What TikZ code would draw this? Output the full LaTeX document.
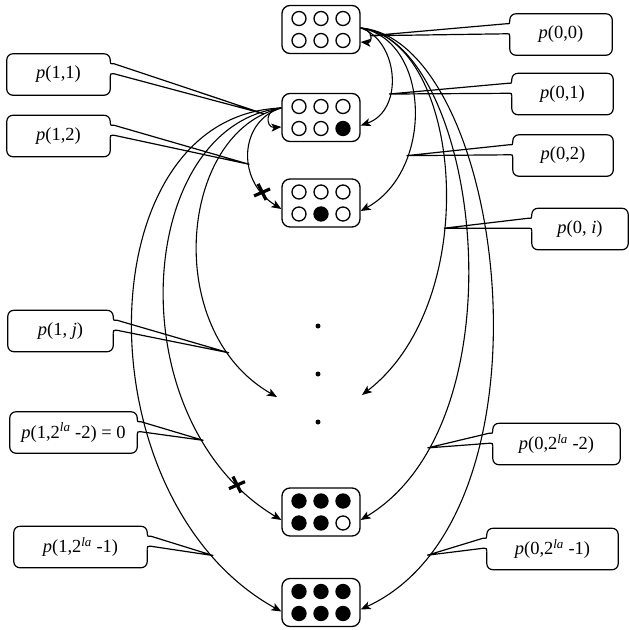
\documentclass[tikz,border=0pt]{standalone}
\usepackage{fontspec}
\setmainfont{Liberation Serif}
\usetikzlibrary{calc,arrows.meta}
\newcommand\cells[7]{%
  \foreach \c/\dx/\dy in {#2/-22/11,#3/0/11,#4/22/11,#5/-22/-11,#6/0/-11,#7/22/-11}
    \draw[line width=1.3pt,fill=\c] ([shift={(\dx pt,\dy pt)}]#1.center) circle[radius=7pt];}
\newcommand\coR[2]{%
  \draw[co,rounded corners=6pt] ($(#1.north west)+(0,-23)$) -- (#1.south west) -- (#1.south east) -- (#1.north east) -- (#1.north west) -- ($(#1.north west)+(0,-7)$);
  \draw[co] ($(#1.north west)+(0,-7)$) .. controls ($(#1.north west)+(0,-10)$) .. ($(#1.north west)+(-4,-10)$) -- (#2) -- ($(#1.north west)+(-4,-20)$) .. controls ($(#1.north west)+(0,-20)$) .. ($(#1.north west)+(0,-23)$);}
\newcommand\coL[2]{%
  \draw[co,rounded corners=6pt] ($(#1.north east)+(0,-23)$) -- (#1.south east) -- (#1.south west) -- (#1.north west) -- (#1.north east) -- ($(#1.north east)+(0,-7)$);
  \draw[co] ($(#1.north east)+(0,-7)$) .. controls ($(#1.north east)+(0,-10)$) .. ($(#1.north east)+(4,-10)$) -- (#2) -- ($(#1.north east)+(4,-20)$) .. controls ($(#1.north east)+(0,-20)$) .. ($(#1.north east)+(0,-23)$);}
\begin{document}
\begin{tikzpicture}[x=1pt,y=1pt,
  state/.style={draw,line width=1.3pt,rounded corners=8pt,minimum width=78pt,minimum height=48pt,inner sep=0pt},
  lbl/.style={inner sep=0pt,minimum height=41pt,font=\fontsize{18.5}{22}\selectfont},
  co/.style={line width=1.2pt},
  arr/.style={line width=1.1pt,-{Stealth[length=10pt,width=8pt,inset=2.5pt]}},
  dotn/.style={circle,fill,inner sep=0pt,minimum size=5pt},
  cross/.style={line width=3.2pt}]
\useasboundingbox (0,0) rectangle (629,-630);

% states
\node[state] (s0) at (321,-29.5) {};
\node[state] (s1) at (321,-117.5) {};
\node[state] (s2) at (321,-203) {};
\node[state] (s3) at (321,-512) {};
\node[state] (s4) at (321,-602.5) {};
\cells{s0}{white}{white}{white}{white}{white}{white}
\cells{s1}{white}{white}{white}{white}{white}{black}
\cells{s2}{white}{white}{white}{white}{black}{white}
\cells{s3}{black}{black}{black}{black}{black}{white}
\cells{s4}{black}{black}{black}{black}{black}{black}

% dots
\node[dotn] (d1) at (318,-326) {};
\node[dotn] (d2) at (318,-374) {};
\node[dotn] (d3) at (318,-422) {};

% free ends
\coordinate (c0i) at (362,-395);
\coordinate (c1j) at (277,-397);
\coordinate (o0) at ([yshift=1.5pt]s0.east);
\coordinate (o1) at ([yshift=9.5pt]s1.west);

% arrows from s0
\draw[arr] (o0) .. controls (373,-29) and (373,-43) .. ([yshift=-12.5pt]s0.east) coordinate[pos=.5] (t00);
\draw[arr] (o0) .. controls (398,-40) and (405,-110) .. ([yshift=-8pt]s1.east) coordinate[pos=.65] (t01);
\draw[arr] (o0) .. controls (430,-40) and (435,-170) .. ([yshift=-8pt]s2.east) coordinate[pos=.7] (t02);
\draw[arr] (o0) .. controls (462,-40) and (485,-300) .. (c0i) coordinate[pos=.6] (t0i);
\draw[arr] (o0) .. controls (478,-40) and (527,-420) .. ([yshift=-8pt]s3.east) coordinate[pos=.83] (t03);
\draw[arr] (o0) .. controls (505,-40) and (565,-515) .. ([yshift=-7pt]s4.east) coordinate[pos=.87] (t04);

% arrows from s1
\draw[arr] (o1) .. controls (265,-107) and (265,-128) .. ([yshift=-9.5pt]s1.west);
\draw[arr] (o1) .. controls (240,-120) and (235,-180) .. ([yshift=-6pt]s2.west) coordinate[pos=.6] (t12) coordinate[pos=.83] (x12);
\draw[arr] (o1) .. controls (180,-130) and (160,-330) .. (c1j) coordinate[pos=.06] (t11) coordinate[pos=.83] (t1j);
\draw[arr] (o1) .. controls (135,-125) and (115,-420) .. ([yshift=-8pt]s3.west) coordinate[pos=.8] (t13) coordinate[pos=.9] (x13);
\draw[arr] (o1) .. controls (85,-115) and (80,-500) .. ([yshift=-9pt]s4.west) coordinate[pos=.87] (t14);

% crosses
\foreach \x in {x12,x13}{
  \draw[cross] ([shift={(-4,8)}]\x) -- ([shift={(4,-8)}]\x);
  \draw[cross] ([shift={(-8,-4)}]\x) -- ([shift={(8,3)}]\x);}

% callouts right
\node[lbl,minimum width=102pt] (L00) at (561,-34.5) {\textit{p}(0,0)};
\node[lbl,minimum width=101pt] (L01) at (562.5,-94) {\textit{p}(0,1)};
\node[lbl,minimum width=100pt] (L02) at (563,-155.5) {\textit{p}(0,2)};
\node[lbl,minimum width=96pt] (L0i) at (580,-229) {\textit{p}(0, \textit{i})};
\node[lbl,minimum width=127pt] (L03) at (556.5,-444) {\textit{p}(0,2\textsuperscript{\textit{la}} -2)};
\node[lbl,minimum width=131pt] (L04) at (552.5,-549) {\textit{p}(0,2\textsuperscript{\textit{la}} -1)};
\coR{L00}{t00}
\coR{L01}{t01}
\coR{L02}{t02}
\coR{L0i}{t0i}
\coR{L03}{t03}
\coR{L04}{t04}

% callouts left
\node[lbl,minimum width=103pt] (L11) at (58.5,-74.5) {\textit{p}(1,1)};
\node[lbl,minimum width=103pt] (L12) at (58.5,-136) {\textit{p}(1,2)};
\node[lbl,minimum width=105pt] (L1j) at (60.5,-331) {\textit{p}(1, \textit{j})};
\node[lbl,minimum width=127pt] (L13) at (73.5,-432.5) {\textit{p}(1,2\textsuperscript{\textit{la}} -2) = 0};
\node[lbl,minimum width=133pt] (L14) at (80.5,-547) {\textit{p}(1,2\textsuperscript{\textit{la}} -1)};
\coL{L11}{t11}
\coL{L12}{t12}
\coL{L1j}{t1j}
\coL{L13}{t13}
\coL{L14}{t14}
\end{tikzpicture}
\end{document}
